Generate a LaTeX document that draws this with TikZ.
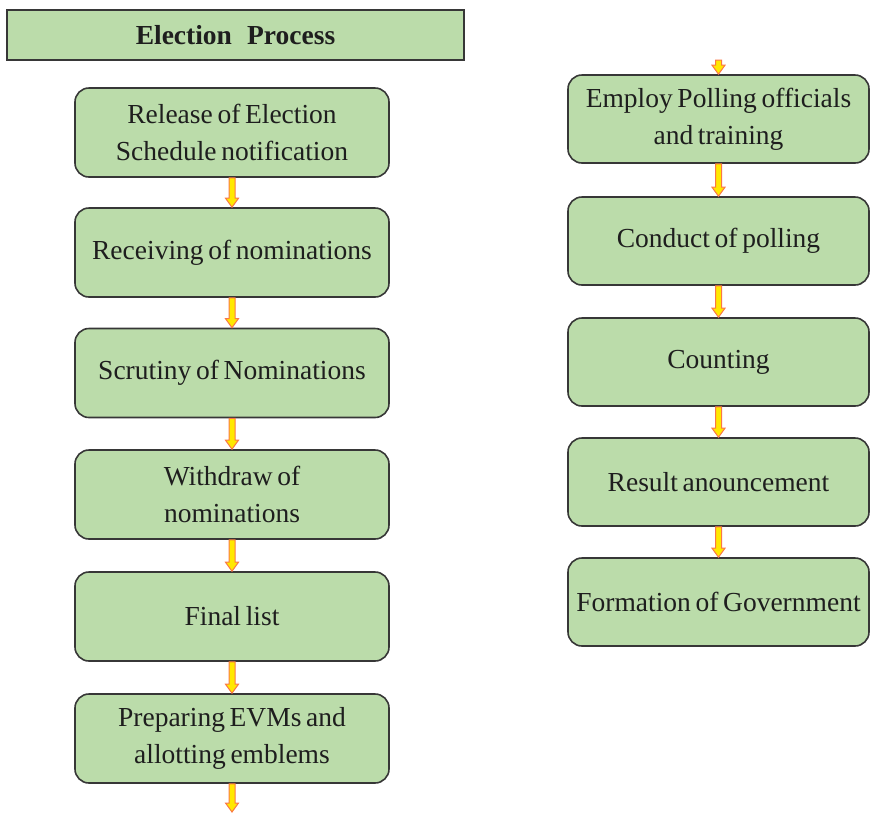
\documentclass[tikz,border=0pt]{standalone}
\usepackage{fontspec}
\setmainfont{Liberation Serif}
\usetikzlibrary{calc}
\definecolor{boxgreen}{RGB}{187,220,170}
\definecolor{boxline}{RGB}{55,55,55}
\definecolor{arrfill}{RGB}{255,232,0}
\definecolor{arrline}{RGB}{250,120,70}
\definecolor{txt}{RGB}{30,30,30}
\newcommand\myboxfont{\fontsize{27.5}{37}\selectfont\spaceskip=0.17em plus 0.05em minus 0.02em\relax}
\tikzset{
  stepbox/.style={draw=boxline, line width=1.6pt, fill=boxgreen, rounded corners=14pt,
    minimum height=89pt, align=center,
    font=\myboxfont, text=txt, inner sep=0pt},
  leftbox/.style={stepbox, minimum width=314pt},
  rightbox/.style={stepbox, minimum width=301pt, minimum height=88pt},
  titlebox/.style={draw=boxline, line width=1.6pt, fill=boxgreen, minimum width=457pt,
    minimum height=50pt, inner sep=0pt, font=\fontsize{27.5}{32}\selectfont\bfseries, text=txt},
  flowarr/.style={fill=arrfill, draw=arrline, line width=1pt, line join=miter}
}
\newcommand\flowarrow[2]{\filldraw[flowarr] let \p1=(#1), \p2=(#2) in
  (\x1-3pt,\y1) -- (\x1+3pt,\y1) -- (\x1+3pt,\y2+9pt) -- (\x1+6.5pt,\y2+9pt) -- (\x1,\y2)
  -- (\x1-6.5pt,\y2+9pt) -- (\x1-3pt,\y2+9pt) -- cycle;}
\begin{document}
\begin{tikzpicture}[x=1pt,y=-1pt]
\useasboundingbox (0,0) rectangle (870,812);
\node[titlebox] (title) at (235.5,35) {Election\hspace{0.55em}Process};
\node[leftbox] (l1) at (232,132.5) {Release of Election\\Schedule notification};
\node[leftbox] (l2) at (232,252.5) {Receiving of nominations};
\node[leftbox] (l3) at (232,373) {Scrutiny of Nominations};
\node[leftbox] (l4) at (232,494.5) {Withdraw of\\nominations};
\node[leftbox] (l5) at (232,616.5) {Final list};
\node[leftbox] (l6) at (232,738.5) {Preparing EVMs and\\allotting emblems};
\coordinate (lend) at (232,812);
\node[rightbox] (r1) at (718.5,119) {Employ Polling officials\\and training};
\node[rightbox] (r2) at (718.5,241) {Conduct of polling};
\node[rightbox] (r3) at (718.5,362) {Counting};
\node[rightbox] (r4) at (718.5,482) {Result anouncement};
\node[rightbox] (r5) at (718.5,602) {Formation of Government};
\coordinate (rstart) at (718.5,60);
\flowarrow{l1.south}{l2.north}
\flowarrow{l2.south}{l3.north}
\flowarrow{l3.south}{l4.north}
\flowarrow{l4.south}{l5.north}
\flowarrow{l5.south}{l6.north}
\flowarrow{l6.south}{lend}
\flowarrow{rstart}{r1.north}
\flowarrow{r1.south}{r2.north}
\flowarrow{r2.south}{r3.north}
\flowarrow{r3.south}{r4.north}
\flowarrow{r4.south}{r5.north}
\end{tikzpicture}
\end{document}
